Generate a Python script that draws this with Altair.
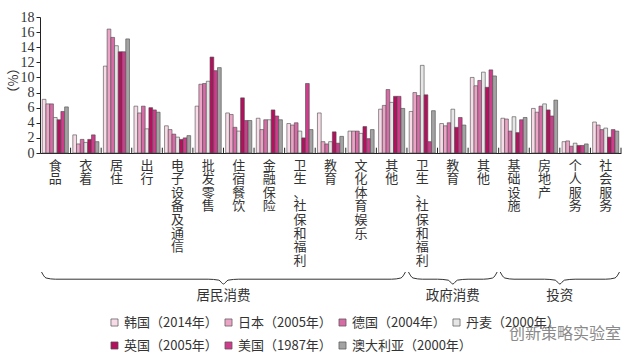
import altair as alt
import pandas as pd

categories = ["食品", "衣着", "居住", "出行", "电子设备及通信", "批发零售", "住宿餐饮",
              "金融保险", "卫生、社保和福利", "教育", "文化体育娱乐", "其他",
              "卫生、社保和福利", "教育", "其他",
              "基础设施", "房地产", "个人服务", "社会服务"]
group_names = ["居民消费", "政府消费", "投资"]
group_sizes = [12, 3, 4]

series = ["韩国（2014年）", "日本（2005年）", "德国（2004年）", "丹麦（2000年）",
          "英国（2005年）", "美国（1987年）", "澳大利亚（2000年）"]
colors = ["#f7dbe7", "#eba3c6", "#d76ba6", "#e6e6e6", "#b3105e", "#cf3c8c", "#a3a3a3"]

korea     = [7.1, 2.4, 11.5, 6.2, 3.6, 6.2, 5.3, 4.6, 3.9, 5.3, 2.9, 5.8, 5.5, 3.9, 10.0, 4.6, 5.9, 1.5, 4.1]
japan     = [6.5, 1.2, 16.4, 5.3, 3.1, 9.1, 5.1, 3.1, 3.7, 1.5, 2.9, 6.3, 8.0, 3.6, 8.9, 4.5, 5.4, 1.6, 3.7]
germany   = [6.5, 1.8, 15.3, 6.2, 2.5, 9.2, 3.4, 4.4, 4.0, 1.2, 2.9, 8.4, 7.6, 4.0, 9.6, 2.9, 6.2, 0.9, 3.1]
denmark   = [4.7, 1.4, 14.2, 3.2, 2.1, 9.5, 2.9, 4.4, 2.9, 1.5, 2.6, 6.7, 11.6, 5.8, 10.7, 4.8, 6.5, 1.3, 3.3]
uk        = [4.4, 1.8, 13.4, 6.0, 1.8, 12.7, 7.3, 5.7, 2.0, 2.8, 3.5, 7.5, 7.7, 3.4, 8.7, 2.7, 5.7, 1.0, 2.1]
usa       = [5.5, 2.4, 13.4, 5.7, 2.0, 10.9, 4.3, 4.9, 9.2, 1.3, 1.9, 7.5, 1.5, 4.7, 11.0, 4.4, 4.9, 1.0, 3.1]
australia = [6.1, 1.5, 15.1, 5.4, 2.3, 11.3, 4.3, 4.4, 3.1, 2.2, 3.1, 5.9, 5.6, 3.7, 10.2, 4.7, 7.0, 1.2, 2.9]

all_values = [korea, japan, germany, denmark, uk, usa, australia]
keys = [f"{i:02d}|{c}" for i, c in enumerate(categories)]
n_cat = len(categories)

rows = []
for s, vals in zip(series, all_values):
    for k, v in zip(keys, vals):
        rows.append({"key": k, "series": s, "value": v})
df = pd.DataFrame(rows)

W, H = 581, 136
CJK = "Noto Sans CJK SC"
SERIF = "Liberation Serif"


def row_legend(vals, y):
    return alt.Legend(orient="none", legendX=68, legendY=y, values=vals,
                      direction="horizontal", columns=4, title=None, gridAlign="none",
                      symbolType="square", symbolSize=50, symbolOpacity=1,
                      symbolStrokeColor="#555", symbolStrokeWidth=0.7,
                      labelFont=CJK, labelFontSize=13, labelColor="#333",
                      columnPadding=4, labelOffset=3)


color_scale = alt.Scale(domain=series, range=colors)

bars = alt.Chart(df).mark_bar(stroke="#4a4a4a", strokeWidth=0.6).encode(
    x=alt.X("key:N", sort=keys,
            scale=alt.Scale(paddingInner=0, paddingOuter=0),
            axis=alt.Axis(title=None, labelExpr="split(split(datum.label, '|')[1], '')",
                          labelAngle=0, labelAlign="center", labelBaseline="top",
                          labelPadding=6, labelLineHeight=13.6, labelFont=CJK,
                          labelFontSize=13, labelColor="#333", ticks=False,
                          labelOverlap=False, domainColor="#222", domainWidth=1)),
    xOffset=alt.XOffset("series:N", sort=series,
                        scale=alt.Scale(paddingOuter=0.6, paddingInner=0)),
    y=alt.Y("value:Q", scale=alt.Scale(domain=[0, 18], nice=False),
            axis=alt.Axis(values=list(range(0, 19, 2)), title="（%）", grid=False,
                          labelFont=SERIF, labelFontSize=14, labelColor="#333",
                          tickSize=4, tickColor="#222", domainColor="#222",
                          titleFont=CJK, titleFontSize=13, titleFontWeight="normal",
                          titleColor="#333", titleX=-27, titleY=63, titleAngle=270,
                          titleAlign="center", titleBaseline="middle")),
    color=alt.Color("series:N", sort=series, scale=color_scale,
                    legend=row_legend(series[:4], 299)),
)

# second legend row (same colour mapping, invisible marks)
legend_row2 = alt.Chart(df).mark_point(filled=True, opacity=0, shape="square").encode(
    x=alt.value(0), y=alt.value(0),
    color=alt.Color("series:N", sort=series, scale=color_scale,
                    legend=row_legend(series[4:], 322)),
)

# boundary ticks between categories
tick_df = pd.DataFrame({"b": list(range(1, n_cat + 1)), "y0": 0.0, "y1": 0.7})
ticks = alt.Chart(tick_df).mark_rule(color="#222", strokeWidth=1).encode(
    x=alt.X("b:Q", scale=alt.Scale(domain=[0, n_cat], nice=False, zero=False), axis=None),
    y=alt.Y("y0:Q", scale=alt.Scale(domain=[0, 18], nice=False), axis=None),
    y2="y1:Q",
)

# braces under the groups
brace_rows = []
label_rows = []
start = 0
for g, size in zip(group_names, group_sizes):
    a, b = start, start + size
    m = (a + b) / 2
    shape = [(a + 0.05, 0.0), (a + 0.2, 0.5), (a + 0.5, 0.6), (m - 0.5, 0.6),
             (m - 0.15, 0.68), (m, 1.0), (m + 0.15, 0.68), (m + 0.5, 0.6),
             (b - 0.5, 0.6), (b - 0.2, 0.5), (b - 0.05, 0.0)]
    for j, (px, py) in enumerate(shape):
        brace_rows.append({"g": g, "i": j, "bx": px, "by": py})
    label_rows.append({"g": g, "bx": m, "by": 2.0})
    start = b
brace_df = pd.DataFrame(brace_rows)
label_df = pd.DataFrame(label_rows)

bx_scale = alt.Scale(domain=[0, n_cat], nice=False, zero=False)
by_scale = alt.Scale(domain=[0, 1], range=[255, 267], nice=False, zero=False)

braces = alt.Chart(brace_df).mark_line(color="#333", strokeWidth=1, interpolate="monotone").encode(
    x=alt.X("bx:Q", scale=bx_scale, axis=None),
    y=alt.Y("by:Q", scale=by_scale, axis=None),
    detail="g:N",
    order="i:Q",
)

brace_labels = alt.Chart(label_df).mark_text(font=CJK, fontSize=13.5, color="#333",
                                              baseline="middle", align="center").encode(
    x=alt.X("bx:Q", scale=bx_scale, axis=None),
    y=alt.Y("by:Q", scale=by_scale, axis=None),
    text="g:N",
)

watermark = alt.Chart(pd.DataFrame({"t": ["创新策略实验室"]})).mark_text(
    font=CJK, fontSize=16, color="#8a8a8a", align="center", baseline="middle"
).encode(text="t:N", x=alt.value(525), y=alt.value(317))

chart = alt.layer(bars, legend_row2, ticks, braces, brace_labels, watermark).resolve_scale(
    x="independent", y="independent", color="independent"
).properties(
    width=W, height=H,
    autosize=alt.AutoSizeParams(type="none"),
    padding={"left": 40, "top": 17, "right": 10, "bottom": 203},
    background="white",
).configure_view(stroke=None)

chart.save("out.html", embed_options={"renderer": "svg", "actions": False})
